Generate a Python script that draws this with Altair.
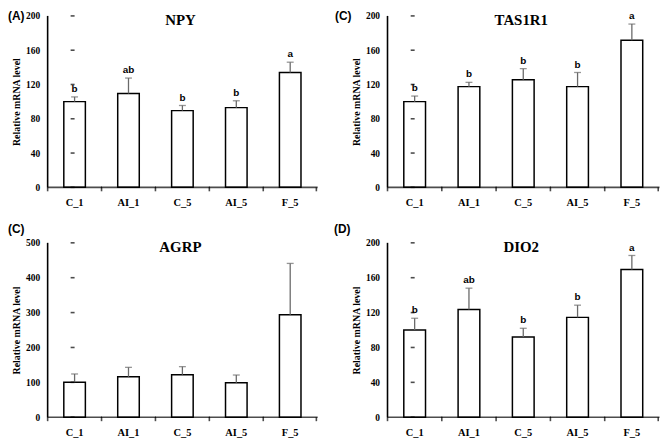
import altair as alt
import pandas as pd

categories = ["C_1", "AI_1", "C_5", "AI_5", "F_5"]

npy_mean = [100, 109.5, 89.5, 93, 134]
npy_err = [5.5, 18, 6, 8, 12]
npy_letters = ["b", "ab", "b", "b", "a"]

tas_mean = [100, 117.5, 125.5, 117.5, 171.5]
tas_err = [6.5, 5, 13, 16.5, 19]
tas_letters = ["b", "b", "b", "b", "a"]

agrp_mean = [100, 116, 122, 98.5, 294]
agrp_err = [24, 27, 23, 22.5, 147]
agrp_letters = ["", "", "", "", ""]

dio_mean = [100, 123.5, 92, 114.5, 169.5]
dio_err = [13.5, 24.5, 10, 14, 16]
dio_letters = ["b", "ab", "b", "b", "a"]

SERIF = "Liberation Serif"
SANS = "Liberation Sans"
ERR_COLOR = "#6a6a6a"
AX_W = 1.6
TICK = 4


def panel(name, tag, means, errs, letters, ymax, ystep, width, height,
          tag_x, tag_y):
    df = pd.DataFrame({
        "cat": categories,
        "mean": means,
        "upper": [m + e for m, e in zip(means, errs)],
        "letter": letters,
        "zero": [0] * len(categories),
    })
    yvals = list(range(0, ymax + 1, ystep))
    xscale = alt.Scale(paddingInner=0, paddingOuter=0)
    xaxis = alt.Axis(title=None, labelAngle=0, domain=False, ticks=False,
                     labelPadding=TICK + 6, labelFontSize=10.5)
    x = alt.X("cat:N", sort=categories, scale=xscale, axis=xaxis)
    yaxis = alt.Axis(title="Relative mRNA level", values=yvals,
                     domain=False, ticks=False,
                     labelPadding=TICK + 4, labelFontSize=9.5,
                     titleFont=SERIF, titleFontWeight="bold", titleFontSize=10,
                     titleColor="black", titlePadding=4)
    yscale = alt.Scale(domain=[0, ymax], nice=False)

    def xb(pos):
        return alt.X("cat:N", sort=categories, scale=xscale, axis=xaxis,
                     bandPosition=pos)

    def yf(field):
        return alt.Y(field, scale=yscale, axis=yaxis)

    base = alt.Chart(df)
    bars = base.mark_bar(fill="white", stroke="black", strokeWidth=1.5,
                         width=alt.RelativeBandSize(0.4)).encode(
        x=x, y=yf("mean:Q"))
    rule = base.mark_rule(color=ERR_COLOR, strokeWidth=1.3).encode(
        x=x, y=yf("mean:Q"), y2="upper:Q")
    cap = base.mark_tick(color=ERR_COLOR, size=7, thickness=1.3,
                         orient="horizontal").encode(
        x=x, y=yf("upper:Q"))
    txt = base.mark_text(font=SANS, fontSize=10, fontWeight="bold",
                         baseline="alphabetic", dy=-5, color="black").encode(
        x=x, y=yf("upper:Q"), text="letter:N")

    # axis frame drawn from the data scales
    ydf = pd.DataFrame({"cat": [categories[0]], "lo": [0], "hi": [ymax]})
    ydom = alt.Chart(ydf).mark_rule(color="black", strokeWidth=AX_W).encode(
        x=xb(0), y=yf("lo:Q"), y2="hi:Q")
    xdom = base.mark_tick(color="black", thickness=AX_W,
                          size=width / len(categories) + 1,
                          orient="horizontal").encode(
        x=x, y=yf("zero:Q"))
    ytdf = pd.DataFrame({"cat": [categories[0]] * len(yvals), "v": yvals})
    yt = alt.Chart(ytdf).mark_tick(color="black", thickness=AX_W, size=TICK,
                                   orient="horizontal",
                                   xOffset=-TICK / 2).encode(
        x=xb(0), y=yf("v:Q"))
    xt = base.mark_tick(color="black", thickness=AX_W, size=TICK,
                        orient="vertical", yOffset=TICK / 2).encode(
        x=xb(0), y=yf("zero:Q"))
    xt_end = alt.Chart(df.tail(1)).mark_tick(
        color="black", thickness=AX_W, size=TICK, orient="vertical",
        yOffset=TICK / 2, xOffset=-AX_W / 2).encode(
        x=xb(1), y=yf("zero:Q"))

    title = alt.Chart(pd.DataFrame({"t": [name]})).mark_text(
        font=SERIF, fontSize=15, fontWeight="bold", baseline="middle",
        color="black").encode(
        x=alt.value(width / 2 - 2), y=alt.value(4), text="t:N")
    tagc = alt.Chart(pd.DataFrame({"t": [tag]})).mark_text(
        font=SANS, fontSize=12, fontWeight="bold", align="left",
        baseline="top", color="black").encode(
        x=alt.value(tag_x), y=alt.value(tag_y), text="t:N")

    return alt.layer(bars, rule, cap, txt, ydom, xdom, yt, xt, xt_end,
                     title, tagc).properties(width=width, height=height)


pA = panel("NPY", "(A)", npy_mean, npy_err, npy_letters, 200, 40,
           272, 173, -40, -5)
pB = panel("TAS1R1", "(C)", tas_mean, tas_err, tas_letters, 200, 40,
           274, 173, -53, -5)
pC = panel("AGRP", "(C)", agrp_mean, agrp_err, agrp_letters, 500, 100,
           272, 176, -40, -19)
pD = panel("DIO2", "(D)", dio_mean, dio_err, dio_letters, 200, 40,
           274, 176, -54, -19)

chart = alt.concat(pA, pB, pC, pD, columns=2,
                   spacing=alt.RowColnumber(row=56, column=71),
                   bounds="flush").properties(
    padding=0
).configure_view(stroke=None).configure_axis(
    grid=False,
    labelFont=SERIF, labelFontWeight="bold", labelColor="black",
)

chart.save("out.html", embed_options={"renderer": "svg", "actions": False})
